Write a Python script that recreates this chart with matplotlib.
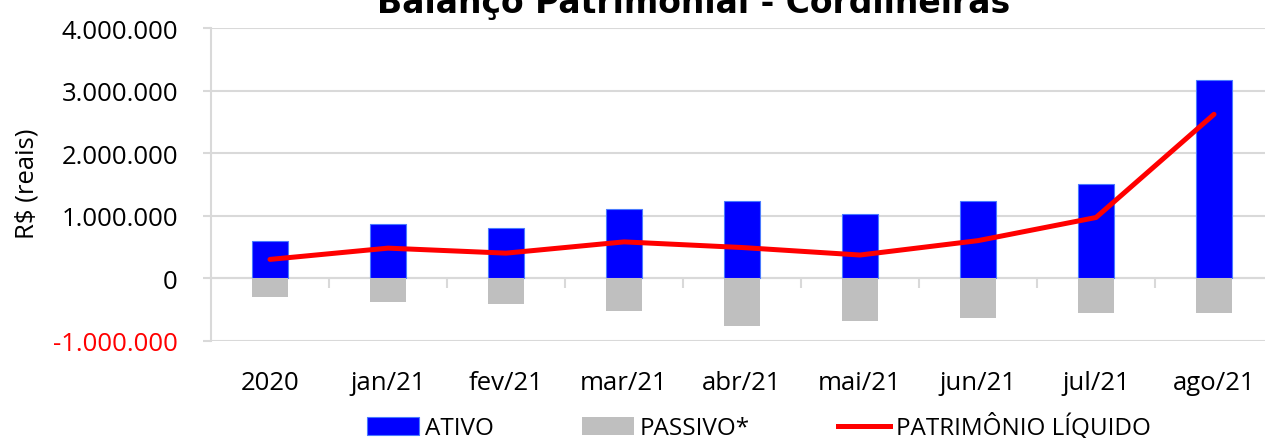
import matplotlib
matplotlib.use("Agg")
import matplotlib.pyplot as plt
from matplotlib.patches import Patch
from matplotlib.lines import Line2D
import numpy as np

categories = ["2020", "jan/21", "fev/21", "mar/21", "abr/21", "mai/21", "jun/21", "jul/21", "ago/21"]
ativo = [590000, 860000, 800000, 1100000, 1240000, 1030000, 1230000, 1510000, 3170000]
passivo = [-300000, -380000, -420000, -530000, -770000, -680000, -630000, -550000, -565000]
patrimonio = [300000, 480000, 400000, 580000, 490000, 370000, 600000, 970000, 2620000]
yticks = [-1000000, 0, 1000000, 2000000, 3000000, 4000000]

FONT = "Open Sans"
GRID = "#D9D9D9"
W, H = 1265, 439

fig = plt.figure(figsize=(W / 100, H / 100), dpi=100)
ax = fig.add_axes([211 / W, 1 - 341.7 / H, 1062 / W, (341.7 - 29) / H])

x = np.arange(len(categories))
ax.bar(x, ativo, width=0.3, color="#0000FF", edgecolor="#4A7BFF", linewidth=0.8, zorder=3)
ax.bar(x, passivo, width=0.3, color="#BFBFBF", linewidth=0, zorder=3)
ax.plot(x, patrimonio, color="#FF0000", lw=3.6, solid_capstyle="round",
        solid_joinstyle="round", zorder=4)

ax.set_xlim(-0.5, len(categories) - 0.5)
ax.set_ylim(yticks[0], yticks[-1])
ax.set_yticks(yticks)
ax.set_yticklabels([f"{v:,}".replace(",", ".") for v in yticks], fontfamily=FONT, fontsize=18.5)
for lab, v in zip(ax.get_yticklabels(), yticks):
    lab.set_color("#FF0000" if v < 0 else "black")
ax.tick_params(axis="y", length=5.8, width=1.5, color=GRID, pad=18)
ax.yaxis.grid(True, color=GRID, lw=1.5, zorder=0)
ax.set_axisbelow(True)

for s in ["top", "right"]:
    ax.spines[s].set_visible(False)
ax.spines["left"].set_color(GRID)
ax.spines["left"].set_linewidth(1.5)
ax.spines["bottom"].set_position(("data", 0))
ax.spines["bottom"].set_color(GRID)
ax.spines["bottom"].set_linewidth(1.5)

ax.set_xticks(x)
ax.set_xticklabels(categories, fontfamily=FONT, fontsize=18.5)
ax.set_xticks(x[:-1] + 0.5, minor=True)
ax.tick_params(axis="x", which="major", length=0, pad=66)
ax.tick_params(axis="x", which="minor", length=7.2, width=1.5, color=GRID, direction="out")

fig.text(27 / W, 1 - 184 / H, "R$ (reais)", rotation=90, ha="center", va="center",
         fontfamily=FONT, fontsize=18.5)

fig.text(694 / W, 1 - 12.5 / H, "Balanço Patrimonial - Cordilheiras", ha="center",
         va="baseline", fontfamily="DejaVu Sans", fontweight="bold", fontsize=23.8)

handles = [
    Patch(facecolor="#0000FF", edgecolor="#4A7BFF", linewidth=0.8),
    Patch(facecolor="#BFBFBF", linewidth=0),
    Line2D([0], [0], color="#FF0000", lw=3.6),
]
fig.legend(handles, ["ATIVO", "PASSIVO*", "PATRIMÔNIO LÍQUIDO"], ncol=3, loc="center",
           bbox_to_anchor=(759 / W, 1 - 428 / H), frameon=False,
           prop={"family": FONT, "size": 17.5}, handlelength=2.15, handleheight=0.7,
           handletextpad=0.25, columnspacing=3.6, borderpad=0, borderaxespad=0)

fig.savefig("out.png", dpi=100)
